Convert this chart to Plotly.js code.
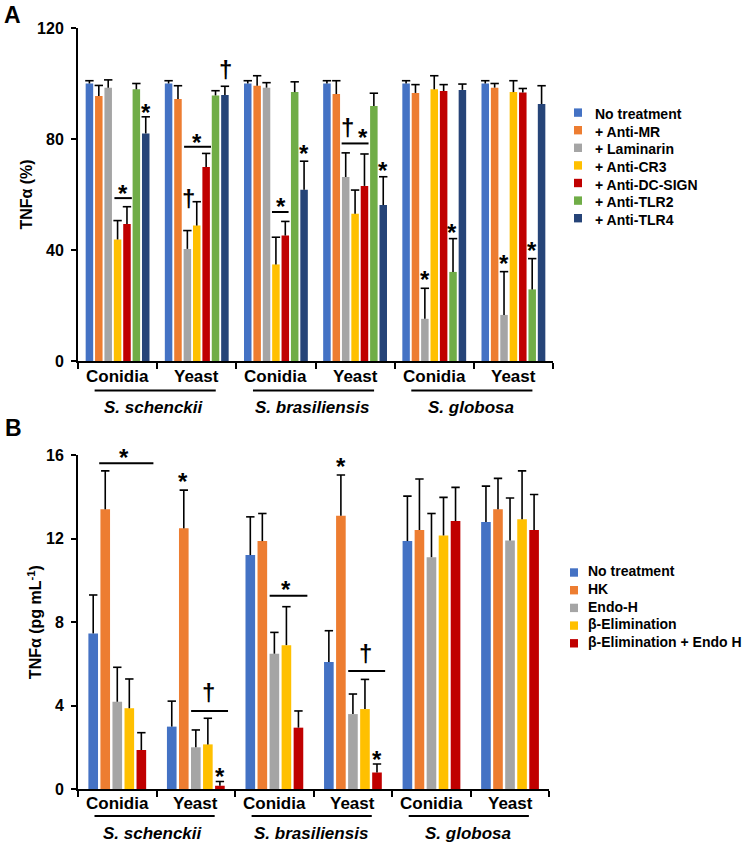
<!DOCTYPE html>
<html><head><meta charset="utf-8">
<script src="https://cdn.plot.ly/plotly-3.0.1.min.js"></script>
<style>html,body{margin:0;padding:0;background:#fff}</style>
</head><body><div id="chart" style="width:750px;height:845px"></div>
<script>
// ---------- DATA ----------
const groupIdx = [0, 1, 2, 3, 4, 5];
const formLabels = ['Conidia', 'Yeast', 'Conidia', 'Yeast', 'Conidia', 'Yeast'];
const speciesLabels = ['S. schenckii', 'S. brasiliensis', 'S. globosa'];

// Panel A: TNFα (%)
const seriesA = ['No treatment', '+ Anti-MR', '+ Laminarin', '+ Anti-CR3', '+ Anti-DC-SIGN', '+ Anti-TLR2', '+ Anti-TLR4'];
const aNoTreatment = [100, 100, 100, 100, 100, 100];
const aNoTreatmentErr = [1, 1, 1, 1, 1, 1];
const aAntiMR = [95.5, 94.4, 99.2, 96.2, 96.6, 98.5];
const aAntiMRErr = [3.8, 4.8, 3.6, 4.8, 3.0, 1.5];
const aLaminarin = [98.5, 40.4, 98.5, 66.3, 15.2, 16.6];
const aLaminarinErr = [2.8, 6.6, 1.8, 8.7, 11.0, 15.6];
const aAntiCR3 = [43.8, 48.8, 34.8, 53.1, 97.9, 96.9];
const aAntiCR3Err = [6.8, 8.6, 9.8, 8.5, 4.9, 4.1];
const aAntiDCSIGN = [49.4, 69.9, 45.2, 63.1, 97.3, 96.8];
const aAntiDCSIGNErr = [6.2, 4.9, 5.1, 11.5, 2.3, 1.4];
const aAntiTLR2 = [97.9, 95.7, 96.9, 91.9, 32.1, 25.8];
const aAntiTLR2Err = [2.1, 1.7, 3.7, 4.6, 12.0, 11.1];
const aAntiTLR4 = [82.0, 95.9, 61.7, 56.2, 97.7, 92.6];
const aAntiTLR4Err = [6.0, 3.1, 10.3, 10.2, 2.1, 6.6];

// Panel B: TNFα (pg mL-1)
const seriesB = ['No treatment', 'HK', 'Endo-H', 'β-Elimination', 'β-Elimination + Endo H'];
const bNoTreatment = [7.46, 3.0, 11.21, 6.09, 11.88, 12.79];
const bNoTreatmentErr = [1.84, 1.22, 1.83, 1.5, 2.15, 1.72];
const bHK = [13.4, 12.49, 11.88, 13.09, 12.41, 13.4];
const bHKErr = [1.84, 1.83, 1.32, 1.95, 2.44, 1.48];
const bEndoH = [4.19, 2.01, 6.49, 3.6, 11.11, 11.91];
const bEndoHErr = [1.65, 0.83, 1.02, 0.96, 2.09, 2.03];
const bBetaElim = [3.88, 2.15, 6.9, 3.84, 12.15, 12.93];
const bBetaElimErr = [1.4, 1.25, 1.84, 1.42, 1.82, 2.31];
const bBetaElimEndoH = [1.88, 0.17, 2.95, 0.81, 12.84, 12.41];
const bBetaElimEndoHErr = [0.83, 0.2, 0.8, 0.4, 1.61, 1.7];

// Significance brackets [group, x0 offset, x1 offset, y] and marks [group, x offset, y, symbol, extra px shift]
const sigLinesA = [[0, -0.04, 0.18, 58.7], [1, -0.16, 0.18, 77.2], [2, -0.05, 0.16, 53.7], [3, -0.17, 0.17, 78.4]];
const sigMarksA = [[0, 0.07, 62.3, '*'], [0, 0.355, 91.5, '*'], [1, -0.11, 58.5, '†'], [1, 0.0, 80.7, '*'],
  [1, 0.366, 104.9, '†'], [2, 0.06, 57.4, '*'], [2, 0.355, 76.4, '*'], [3, -0.09, 84.3, '†'], [3, 0.1, 82.2, '*'],
  [3, 0.355, 70.4, '*'], [4, -0.12, 31, '*'], [4, 0.23, 48, '*'], [5, -0.12, 37, '*'], [5, 0.23, 41.5, '*']];
const sigLinesB = [[0, -0.23, 0.46, 15.6], [1, -0.06, 0.41, 3.75], [2, -0.06, 0.42, 9.26], [3, -0.06, 0.41, 5.66]];
const sigMarksB = [[0, 0.09, 15.6, '*', 11], [1, -0.16, 14.96, '*'], [1, 0.16, 4.65, '†'], [1, 0.306, 0.84, '*'],
  [2, 0.15, 9.82, '*'], [3, -0.153, 15.67, '*'], [3, 0.154, 6.5, '†'], [3, 0.306, 1.68, '*']];

// ---------- STYLE ----------
const FONT = 'Liberation Sans, Arial, sans-serif';
const colorsA = ['#4472C4', '#ED7D31', '#A5A5A5', '#FFC000', '#C00000', '#70AD47', '#264478'];
const colorsB = ['#4472C4', '#ED7D31', '#A5A5A5', '#FFC000', '#C00000'];
const W = 750, H = 845;

const valsA = [aNoTreatment, aAntiMR, aLaminarin, aAntiCR3, aAntiDCSIGN, aAntiTLR2, aAntiTLR4];
const errsA = [aNoTreatmentErr, aAntiMRErr, aLaminarinErr, aAntiCR3Err, aAntiDCSIGNErr, aAntiTLR2Err, aAntiTLR4Err];
const valsB = [bNoTreatment, bHK, bEndoH, bBetaElim, bBetaElimEndoH];
const errsB = [bNoTreatmentErr, bHKErr, bEndoHErr, bBetaElimErr, bBetaElimEndoHErr];

function geom(n, gap, groupgap, i) {
  const slot = (1 - gap) / n;
  const width = slot * (1 - groupgap);
  const center = -(1 - gap) / 2 + (i + 0.5) * slot;
  return { width, offset: center - width / 2, center };
}

const traces = [];
function addPanel(names, vals, errs, colors, gap, ggap, xa, ya) {
  const n = names.length;
  names.forEach((nm, i) => {
    const g = geom(n, gap, ggap, i);
    traces.push({
      type: 'bar', name: nm, x: groupIdx, y: vals[i], width: g.width, offset: g.offset,
      marker: { color: colors[i], line: { width: 0 } }, xaxis: xa, yaxis: ya, showlegend: false,
      hoverinfo: 'y'
    });
  });
  names.forEach((nm, i) => {
    const g = geom(n, gap, ggap, i);
    traces.push({
      type: 'scatter', mode: 'markers', showlegend: false, hoverinfo: 'skip',
      x: groupIdx.map(v => v + g.center), y: vals[i].map((v, k) => v + errs[i][k]),
      marker: { symbol: 'line-ew', size: 6, color: '#000', line: { width: 1.6, color: '#000' } },
      error_y: { type: 'data', symmetric: false, array: vals[i].map(() => 0), arrayminus: errs[i],
        width: 0, thickness: 1.6, color: '#000' },
      xaxis: xa, yaxis: ya
    });
  });
}
addPanel(seriesA, valsA, errsA, colorsA, 0.17, 0.2, 'x', 'y');
addPanel(seriesB, valsB, errsB, colorsB, 0.234, 0.2, 'x2', 'y2');

const py = p => 1 - p / H;
const px = p => p / W;
const annotations = [];
const shapes = [];

function addCategoryLabels(xref, yForm, yLine, yText) {
  groupIdx.forEach(g => annotations.push({
    xref: xref, yref: 'paper', x: g, y: py(yForm), text: formLabels[g], showarrow: false,
    font: { size: 17, weight: 'bold', family: FONT, color: '#000' }, xanchor: 'center', yanchor: 'middle'
  }));
  speciesLabels.forEach((s, k) => {
    const c = 2 * k + 0.5;
    shapes.push({ type: 'line', xref: xref, yref: 'paper', x0: c - 0.79, x1: c + 0.74, y0: py(yLine), y1: py(yLine),
      line: { color: '#000', width: 2 } });
    annotations.push({ xref: xref, yref: 'paper', x: c - 0.04, y: py(yText), text: s, showarrow: false,
      font: { size: 17, weight: 'bold', style: 'italic', family: FONT, color: '#000' }, xanchor: 'center', yanchor: 'middle' });
  });
}
addCategoryLabels('x', 376, 390.5, 407.5);
addCategoryLabels('x2', 803, 816, 833);

function addSig(lines, marks, xref, yref) {
  lines.forEach(([g, a, b, y]) => shapes.push({ type: 'line', xref: xref, yref: yref, x0: g + a, x1: g + b, y0: y, y1: y,
    line: { color: '#000', width: 2 } }));
  marks.forEach(([g, dx, y, s, sh]) => annotations.push({ xref: xref, yref: yref, x: g + dx, y: y, text: s, showarrow: false,
    font: { size: 24, weight: 'bold', family: FONT, color: '#000' }, xanchor: 'center', yanchor: 'middle',
    yshift: (s === '*' ? -5 : 0) + (sh || 0) }));
}
addSig(sigLinesA, sigMarksA, 'x', 'y');
addSig(sigLinesB, sigMarksB, 'x2', 'y2');

// Custom legends (squares + labels)
function addLegend(names, colors, sqX, textX, y0, step, textDy) {
  names.forEach((nm, i) => {
    const cy = y0 + i * step;
    shapes.push({ type: 'rect', xref: 'paper', yref: 'paper', x0: px(sqX), x1: px(sqX + 8), y0: py(cy - 4.2), y1: py(cy + 4.2),
      fillcolor: colors[i], line: { width: 0 } });
    annotations.push({ xref: 'paper', yref: 'paper', x: px(textX), y: py(cy + textDy), text: nm, showarrow: false,
      font: { size: 14, weight: 'bold', family: FONT, color: '#000' }, xanchor: 'left', yanchor: 'middle' });
  });
}
addLegend(seriesA, colorsA, 574, 593, 112.6, 17.6, 1.5);
addLegend(seriesB, colorsB, 570, 586, 572.5, 17.7, -1.2);

annotations.push({ xref: 'paper', yref: 'paper', x: px(12), y: py(15), text: 'A', showarrow: false,
  font: { size: 23, weight: 'bold', family: FONT, color: '#000' }, xanchor: 'center', yanchor: 'middle' });
annotations.push({ xref: 'paper', yref: 'paper', x: px(13), y: py(428), text: 'B', showarrow: false,
  font: { size: 23, weight: 'bold', family: FONT, color: '#000' }, xanchor: 'center', yanchor: 'middle' });

const xBase = {
  range: [-0.5, 5.5], tickvals: [-0.5, 0.5, 1.5, 2.5, 3.5, 4.5, 5.5], showticklabels: false,
  ticks: 'outside', ticklen: 6, tickwidth: 2, tickcolor: '#000', showline: true, linewidth: 2, linecolor: '#000',
  showgrid: false, zeroline: false, fixedrange: true
};
const yBase = {
  ticks: 'outside', ticklen: 5, tickwidth: 2, tickcolor: '#000', showline: true, linewidth: 2, linecolor: '#000',
  showgrid: false, zeroline: false, tickfont: { size: 16, weight: 'bold', family: FONT, color: '#000' },
  ticklabelstandoff: 4, fixedrange: true
};

const layout = {
  width: W, height: H, margin: { l: 0, r: 0, t: 0, b: 0 }, paper_bgcolor: '#fff', plot_bgcolor: '#fff',
  barmode: 'overlay', showlegend: false,
  font: { family: FONT, color: '#000' },
  xaxis: Object.assign({}, xBase, { domain: [px(78), px(553)], anchor: 'y' }),
  yaxis: Object.assign({}, yBase, { domain: [py(361), py(28)], range: [0, 120], tickvals: [0, 40, 80, 120], anchor: 'x',
    title: { text: 'TNFα (%)', font: { size: 16, weight: 'bold', family: FONT, color: '#000' }, standoff: 0 } }),
  xaxis2: Object.assign({}, xBase, { domain: [px(78), px(549.3)], anchor: 'y2' }),
  yaxis2: Object.assign({}, yBase, { domain: [py(789.3), py(455)], range: [0, 16], tickvals: [0, 4, 8, 12, 16], anchor: 'x2',
    title: { text: 'TNFα (pg mL<sup>-1</sup>)', font: { size: 16, weight: 'bold', family: FONT, color: '#000' }, standoff: 0 } }),
  annotations: annotations, shapes: shapes
};

Plotly.newPlot('chart', traces, layout, { displayModeBar: false, staticPlot: true });
</script>
</body></html>
